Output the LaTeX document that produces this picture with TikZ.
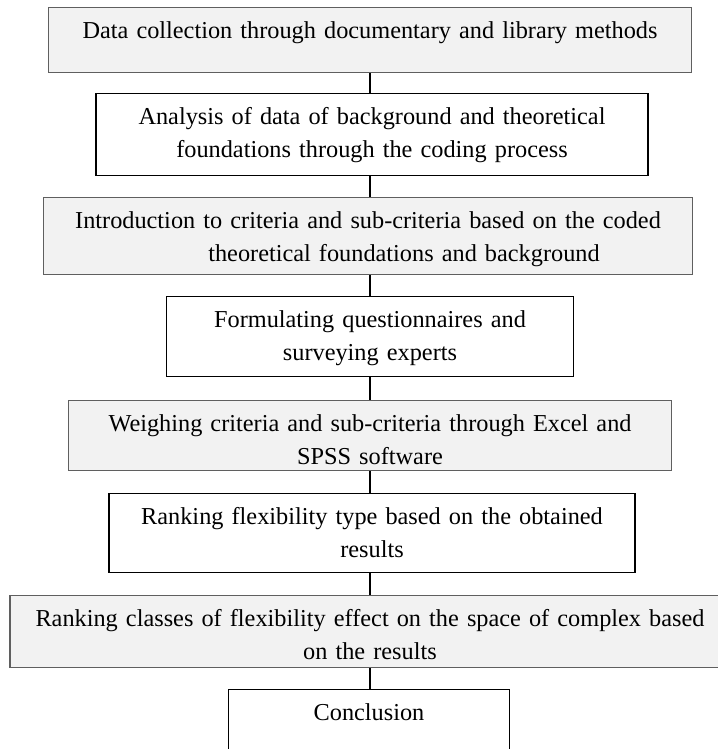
\documentclass[tikz,border=0pt]{standalone}
\usepackage{fontspec}
\setmainfont{Liberation Serif}
\definecolor{boxfill}{HTML}{F2F2F2}
\definecolor{boxedge}{HTML}{5F5F5F}

\begin{document}
\begin{tikzpicture}[
  x=1pt, y=-1pt,
  stepbox/.style={
    draw=black, line width=1.2pt, fill=white, anchor=north,
    inner sep=0pt, align=center, text height=31pt,
    font=\fontsize{24.3}{33}\selectfont
  },
  shaded/.style={fill=boxfill, draw=boxedge},
  link/.style={line width=1.2pt, black},
]

\useasboundingbox (0,0) rectangle (717,749);

% Boxes, top to bottom
\node[stepbox, shaded, text width=643pt, text depth=34pt] (collect) at (370,7)
  {Data collection through documentary and library methods};

\node[stepbox, text width=552pt, text depth=51pt] (analysis) at (372,93)
  {Analysis of data of background and theoretical\\
   foundations through the coding process};

\node[stepbox, shaded, text width=649pt, text depth=46pt] (intro) at (368,197)
  {Introduction to criteria and sub-criteria based on the coded\\
   \hspace*{72pt}theoretical foundations and background};

\node[stepbox, text width=407pt, text depth=49pt] (survey) at (370,296)
  {Formulating questionnaires and\\
   surveying experts};

\node[stepbox, shaded, text width=603pt, text depth=39pt] (weigh) at (370,400)
  {Weighing criteria and sub-criteria through Excel and\\
   SPSS software};

\node[stepbox, text width=526pt, text depth=48pt] (rankflex) at (372,493)
  {Ranking flexibility type based on the obtained\\
   results};

\node[stepbox, shaded, text width=720pt, text depth=41pt] (rankclass) at (370,595)
  {Ranking classes of flexibility effect on the space of complex based\\
   on the results};

\node[stepbox, text width=281pt, text depth=50pt] (conclude) at (369,689)
  {Conclusion};

% Connectors
\draw[link] (collect.south) -- (collect.south |- analysis.north);
\draw[link] (collect.south |- analysis.south) -- (collect.south |- intro.north);
\draw[link] (collect.south |- intro.south) -- (survey.north);
\draw[link] (survey.south) -- (weigh.north);
\draw[link] (weigh.south) -- (weigh.south |- rankflex.north);
\draw[link] (weigh.south |- rankflex.south) -- (rankclass.north);
\draw[link] (rankclass.south) -- (conclude.north -| rankclass.south);

\end{tikzpicture}
\end{document}
